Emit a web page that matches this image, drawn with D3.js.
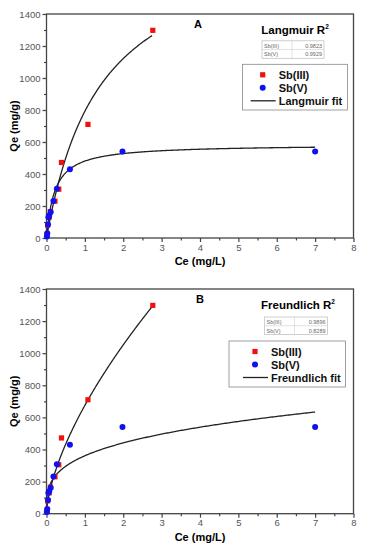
<!DOCTYPE html>
<html>
<head>
<meta charset="utf-8">
<script src="https://cdn.jsdelivr.net/npm/d3@7"></script>
<style>
body { margin: 0; background: #fff; }
svg { display: block; font-family: Arial, "Liberation Sans", sans-serif; }
</style>
</head>
<body>
<svg id="viz" width="365" height="550"></svg>
<script>
// data
const sb3Ce = [0.01, 0.03, 0.07, 0.10, 0.22, 0.32, 0.39, 1.08, 2.77];
const sb3Qe = [20, 80, 130, 165, 230, 305, 472, 710, 1298];
const sb5Ce = [0.01, 0.02, 0.04, 0.05, 0.07, 0.11, 0.18, 0.27, 0.61, 1.98, 7.0];
const sb5Qe = [10, 30, 85, 130, 140, 162, 232, 308, 430, 540, 540];

// fit parameters (Langmuir: qm, K ; Freundlich: Kf, 1/n) and fit ranges
const langSb3 = {qm: 1919, K: 0.703, max: 2.75};
const langSb5 = {qm: 585, K: 4.6, max: 7.0};
const freuSb3 = {Kf: 675, n1: 0.64, max: 2.77};
const freuSb5 = {Kf: 361, n1: 0.289, max: 7.0};

const r2Rows = ["Sb(III)", "Sb(V)"];
const langR2 = ["0.9823", "0.9929"];
const freuR2 = ["0.9896", "0.8289"];

const xTicks = [0, 1, 2, 3, 4, 5, 6, 7, 8];
const yTicks = [0, 200, 400, 600, 800, 1000, 1200, 1400];

const svg = d3.select("#viz");

const langmuir = p => c => p.qm * p.K * c / (1 + p.K * c);
const freundlich = p => c => p.Kf * Math.pow(c, p.n1);

function panel(cfg) {
  const x = d3.scaleLinear().domain([0, 8]).range([46.5, 353.5]);
  const y = d3.scaleLinear().domain([0, 1400]).range([cfg.bottom, cfg.top]);
  const g = svg.append("g");

  // frame
  g.append("rect").attr("x", 46.5).attr("y", cfg.top)
    .attr("width", 307).attr("height", cfg.bottom - cfg.top)
    .attr("fill", "none").attr("stroke", "#444").attr("stroke-width", 1.3);

  // axes
  g.append("g").attr("transform", `translate(0,${cfg.bottom})`)
    .call(d3.axisBottom(x).tickValues(xTicks).tickSize(4).tickPadding(2).tickFormat(d3.format("d")));
  g.append("g").attr("transform", `translate(0,${cfg.bottom})`)
    .call(d3.axisBottom(x).tickValues(d3.range(0.5, 8, 1)).tickSize(2.5).tickFormat(""));
  g.append("g").attr("transform", "translate(46.5,0)")
    .call(d3.axisLeft(y).tickValues(yTicks).tickSize(4).tickPadding(2).tickFormat(d3.format("d")));
  g.append("g").attr("transform", "translate(46.5,0)")
    .call(d3.axisLeft(y).tickValues(d3.range(100, 1400, 200)).tickSize(2.5).tickFormat(""));
  g.selectAll(".domain").remove();
  g.selectAll(".tick line").attr("stroke", "#444").attr("stroke-width", 1.2);
  g.selectAll(".tick text").attr("fill", "#555").style("font-size", "9.5px");

  // axis titles
  g.append("text").attr("x", 200).attr("y", cfg.bottom + 27)
    .attr("text-anchor", "middle").style("font-size", "11px").style("font-weight", "bold")
    .text("Ce (mg/L)");
  g.append("text").attr("transform", `translate(18,${(cfg.top + cfg.bottom) / 2}) rotate(-90)`)
    .attr("text-anchor", "middle").style("font-size", "11px").style("font-weight", "bold")
    .text("Qe (mg/g)");

  // fit curves
  const line = d3.line().x(d => x(d[0])).y(d => y(d[1]));
  cfg.fits.forEach(f => {
    const pts = [];
    for (let i = 0; i <= 300; i++) {
      const c = f.start + (f.p.max - f.start) * Math.pow(i / 300, 2);
      pts.push([c, f.fn(f.p)(c)]);
    }
    g.append("path").attr("d", line(pts)).attr("fill", "none")
      .attr("stroke", "#222").attr("stroke-width", 1.3);
  });

  // points
  g.selectAll(".sb3").data(d3.zip(sb3Ce, sb3Qe)).join("rect")
    .attr("x", d => x(d[0]) - 2.6).attr("y", d => y(d[1]) - 2.6)
    .attr("width", 5.2).attr("height", 5.2).attr("fill", "#f01010");
  g.selectAll(".sb5").data(d3.zip(sb5Ce, sb5Qe)).join("circle")
    .attr("cx", d => x(d[0])).attr("cy", d => y(d[1])).attr("r", 3)
    .attr("fill", "#1010f0");

  // panel letter and R2 title
  g.append("text").attr("x", cfg.letterX).attr("y", cfg.top + 14)
    .style("font-size", "11px").style("font-weight", "bold").text(cfg.letter);
  const t = g.append("text").attr("x", cfg.titleX).attr("y", cfg.top + 20)
    .attr("text-anchor", "middle").style("font-size", "11.5px").style("font-weight", "bold")
    .text(cfg.name + " R");
  t.append("tspan").attr("dy", -5).style("font-size", "6.5px").text("2");

  // R2 table
  const tb = cfg.table;
  const tg = g.append("g");
  tg.append("rect").attr("x", tb.x).attr("y", tb.y).attr("width", tb.w).attr("height", 17.5)
    .attr("fill", "#fff").attr("stroke", "#bbb").attr("stroke-width", 0.7);
  tg.append("line").attr("x1", tb.x).attr("x2", tb.x + tb.w).attr("y1", tb.y + 8.75).attr("y2", tb.y + 8.75)
    .attr("stroke", "#ccc").attr("stroke-width", 0.6);
  tg.append("line").attr("x1", tb.x + 30).attr("x2", tb.x + 30).attr("y1", tb.y).attr("y2", tb.y + 17.5)
    .attr("stroke", "#ccc").attr("stroke-width", 0.6);
  r2Rows.forEach((r, i) => {
    tg.append("text").attr("x", tb.x + 2).attr("y", tb.y + 6.8 + i * 8.75)
      .style("font-size", "5.5px").attr("fill", "#666").text(r);
    tg.append("text").attr("x", tb.x + tb.w - 2).attr("y", tb.y + 6.8 + i * 8.75)
      .attr("text-anchor", "end").style("font-size", "5.5px").attr("fill", "#666").text(cfg.r2[i]);
  });

  // legend
  const lg = cfg.legend;
  g.append("rect").attr("x", lg.x).attr("y", lg.y).attr("width", lg.w).attr("height", lg.h)
    .attr("fill", "#fff").attr("stroke", "#888").attr("stroke-width", 0.8);
  g.append("rect").attr("x", lg.sym - 2.6).attr("y", lg.y + 10.5 - 2.6)
    .attr("width", 5.2).attr("height", 5.2).attr("fill", "#f01010");
  g.append("circle").attr("cx", lg.sym).attr("cy", lg.y + 23.5).attr("r", 3).attr("fill", "#1010f0");
  g.append("line").attr("x1", lg.sym - 12).attr("x2", lg.sym + 13).attr("y1", lg.y + 36.5).attr("y2", lg.y + 36.5)
    .attr("stroke", "#222").attr("stroke-width", 1.3);
  [cfg.seriesNames[0], cfg.seriesNames[1], cfg.name + " fit"].forEach((s, i) => {
    g.append("text").attr("x", lg.sym + 16).attr("y", lg.y + 14.5 + i * 13)
      .style("font-size", "11px").style("font-weight", "bold").attr("fill", "#111").text(s);
  });
}

panel({
  top: 14, bottom: 238, letter: "A", letterX: 194, titleX: 295, name: "Langmuir",
  fits: [{fn: langmuir, p: langSb3, start: 0}, {fn: langmuir, p: langSb5, start: 0}],
  r2: langR2, table: {x: 262, y: 40.8, w: 62},
  legend: {x: 242.5, y: 64.3, w: 105, h: 45.7, sym: 262.7},
  seriesNames: r2Rows
});

panel({
  top: 289, bottom: 513.7, letter: "B", letterX: 196, titleX: 298, name: "Freundlich",
  fits: [{fn: freundlich, p: freuSb3, start: 0.008}, {fn: freundlich, p: freuSb5, start: 0.008}],
  r2: freuR2, table: {x: 264.5, y: 317, w: 63},
  legend: {x: 229, y: 341, w: 116.5, h: 46, sym: 255},
  seriesNames: r2Rows
});
</script>
</body>
</html>
